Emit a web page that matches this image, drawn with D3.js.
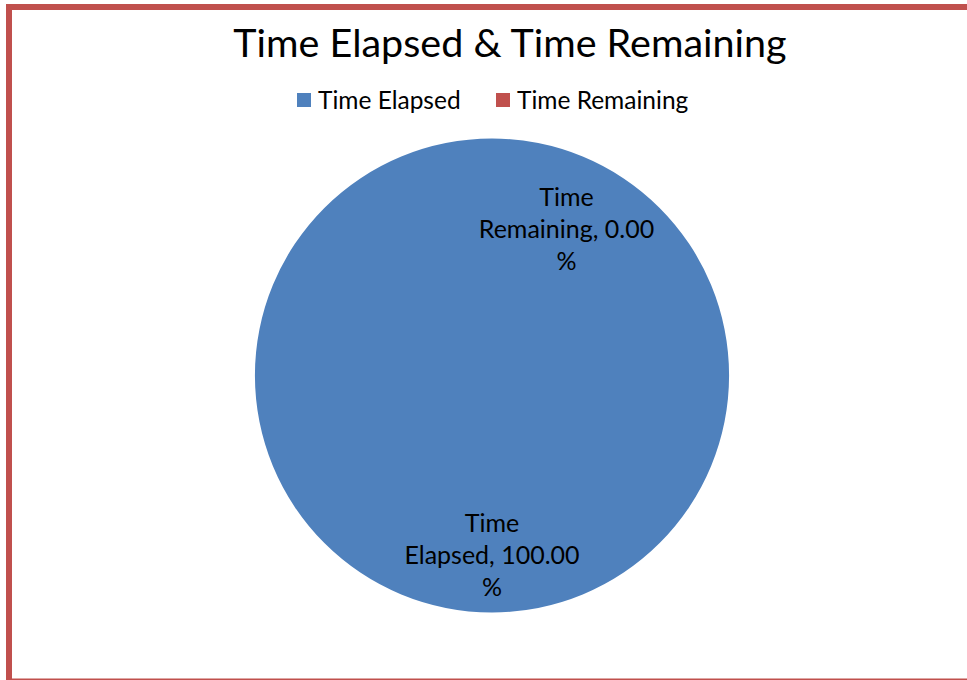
<!DOCTYPE html>
<html><head><meta charset="utf-8">
<script src="https://cdn.jsdelivr.net/npm/d3@7"></script>
<style>body{margin:0;background:#fff;} svg{display:block;font-family:Lato, "Open Sans", sans-serif;}</style>
</head><body>
<svg id="c" width="967" height="680"></svg>
<script>
const categories = ["Time Elapsed", "Time Remaining"];
const values = [100.00, 0.00];
const colors = ["#4F81BD", "#C0504D"];
const title = "Time Elapsed & Time Remaining";

const svg = d3.select("#c");
// border
const bc = "#C0504D";
svg.append("rect").attr("x",6).attr("y",4).attr("width",961).attr("height",6).attr("fill",bc);
svg.append("rect").attr("x",6).attr("y",4).attr("width",6).attr("height",676).attr("fill",bc);
svg.append("rect").attr("x",6).attr("y",678.5).attr("width",961).attr("height",1.5).attr("fill",bc);

svg.append("text").attr("x",510).attr("y",57).attr("text-anchor","middle")
  .attr("font-size",39.5).attr("fill","#000").text(title);

// legend
const leg = svg.append("g");
const legX = [297, 496];
categories.forEach((c,i)=>{
  leg.append("rect").attr("x",legX[i]).attr("y",93).attr("width",14).attr("height",14).attr("fill",colors[i]);
  leg.append("text").attr("x",legX[i]+21).attr("y",108.5).attr("font-size",24.5).attr("fill","#000").text(c);
});

const cx=492, cy=375.5, r=237;
const pie = d3.pie().sort(null).value(d=>d)(values);
const arc = d3.arc().innerRadius(0).outerRadius(r);
const g = svg.append("g").attr("transform",`translate(${cx},${cy})`);
g.selectAll("path").data(pie).join("path").attr("d",arc).attr("fill",(d,i)=>colors[i]);

// labels
const labelPos = [[492-cx, 532-cy],[566.5-cx, 206-cy]];
const lines = [["Time","Elapsed, "+values[0].toFixed(2),"%"],["Time","Remaining, "+values[1].toFixed(2),"%"]];
pie.forEach((d,i)=>{
  const t = g.append("text").attr("text-anchor","middle").attr("font-size",25).attr("fill","#000")
    .attr("transform",`translate(${labelPos[i][0]},${labelPos[i][1]})`);
  lines[i].forEach((l,j)=>t.append("tspan").attr("x",0).attr("y",j*32).text(l));
});
</script>
</body></html>
